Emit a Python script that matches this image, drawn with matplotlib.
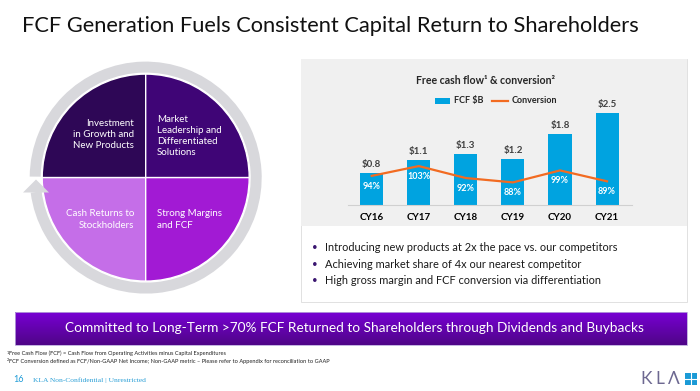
import numpy as np
import matplotlib.pyplot as plt
from matplotlib.patches import Rectangle, Wedge, Polygon

plt.rcParams['font.family'] = ['Lato', 'DejaVu Sans']

# chart data
years = ['CY16', 'CY17', 'CY18', 'CY19', 'CY20', 'CY21']
fcf = [0.84, 1.17, 1.33, 1.19, 1.85, 2.39]
fcf_labels = ['$0.8', '$1.1', '$1.3', '$1.2', '$1.8', '$2.5']
conversion = [94, 103, 92, 88, 99, 89]

# slide text
title = 'FCF Generation Fuels Consistent Capital Return to Shareholders'
quad_tl = 'Investment\nin Growth and\nNew Products'
quad_tr = 'Market\nLeadership and\nDifferentiated\nSolutions'
quad_bl = 'Cash Returns to\nStockholders'
quad_br = 'Strong Margins\nand FCF'
bullets = ['Introducing new products at 2x the pace vs. our competitors',
           'Achieving market share of 4x our nearest competitor',
           'High gross margin and FCF conversion via differentiation']
banner = 'Committed to Long-Term >70% FCF Returned to Shareholders through Dividends and Buybacks'
note1 = 'Free Cash Flow (FCF) = Cash Flow from Operating Activities minus Capital Expenditures'
note2 = 'FCF Conversion defined as FCF/Non-GAAP Net Income; Non-GAAP metric \u2013 Please refer to Appendix for reconciliation to GAAP'

blue = '#00a3e0'
orange = '#f26b21'

fig = plt.figure(figsize=(7, 3.91), dpi=100)

# background canvas in pixel coordinates (y grows downward)
bg = fig.add_axes([0, 0, 1, 1])
bg.axis('off')

bg.text(21.5, 25.5, title, fontsize=15.75, va='center', color='#111111')

#%% cycle diagram
cx, cy = 145.7, 177.6
# angles are in data space, y axis is flipped: 180-270 = upper left on screen
quads = [(180, 270, '#2e0756'), (270, 360, '#3f0576'),
         (90, 180, '#c56ee8'), (0, 90, '#a21ad4')]
for t1, t2, col in quads:
    bg.add_patch(Wedge((cx, cy), 103.5, t1, t2, fc=col, ec='white', lw=1.0))

ring = Wedge((cx, cy), 116, -179.5, 172.5, width=11, fc='#d8d8dc', ec='none')
bg.add_patch(ring)
bg.add_patch(Polygon([(23, 192.5), (36, 179.5), (49, 192.5)], closed=True,
                     fc='#d8d8dc', ec='none'))

qkw = dict(color='white', fontsize=7, va='center', linespacing=1.3)
bg.text(134, 134.4, quad_tl, ha='right', multialignment='right', **qkw)
bg.text(156.7, 136.3, quad_tr, ha='left', **qkw)
bg.text(134, 219.5, quad_bl, ha='right', multialignment='right', **qkw)
bg.text(156.7, 219.5, quad_br, ha='left', **qkw)

#%% chart panel
bg.add_patch(Rectangle((300.7, 59), 386.3, 243, fc='white', ec='#dcdcdc', lw=0.6))
bg.add_patch(Rectangle((300.7, 59), 386.3, 167, fc='#f0f0f0', ec='none'))
bg.text(485, 80.7, 'Free cash flow\u00b9 & conversion\u00b2', ha='center', va='center',
        fontsize=7.6, fontweight='bold', color='#262626')
bg.add_patch(Rectangle((435, 97.5), 15, 6.5, fc=blue, ec='none'))
bg.text(454, 100.7, 'FCF $B', fontsize=6.5, fontweight='bold', va='center', color='#262626')
bg.plot([492, 508], [100.7, 100.7], color=orange, lw=1.6)
bg.text(512, 100.7, 'Conversion', fontsize=6.5, fontweight='bold', va='center', color='#262626')

for i, b in enumerate(bullets):
    yy = 247.7 + i * 16.5
    bg.text(315, yy, '\u2022', fontsize=7, va='center', ha='center', color='#3a1670')
    bg.text(325, yy, b, fontsize=7.95, va='center', color='#1a1a1a')

#%% banner with gradient
grad = np.linspace(0, 1, 60)[:, None, None]
top = np.array([0.47, 0.0, 0.83])
bot = np.array([0.31, 0.02, 0.53])
img = top * (1 - grad) + bot * grad
bg.imshow(img, extent=(15, 687, 345, 312.3), origin='upper', aspect='auto', zorder=1)
bg.add_patch(Rectangle((15, 312.3), 672, 32.7, fc='none', ec='#b9a6dc', lw=0.6, zorder=2))
bg.text(354, 328.5, banner, color='white', fontsize=9.85, ha='center', va='center', zorder=3)

#%% footnotes / footer
bg.text(6.5, 352.5, '1', fontsize=2.8, va='center', color='#222222')
bg.text(9.3, 353.5, note1, fontsize=4.05, va='center', color='#222222')
bg.text(6.5, 360.3, '2', fontsize=2.8, va='center', color='#222222')
bg.text(9.3, 361.3, note2, fontsize=4.05, va='center', color='#222222')
bg.text(13.3, 380, '16', fontsize=6.5, va='center', color='#1e9bd7')
bg.text(33, 380, 'KLA Non-Confidential | Unrestricted', fontsize=5.4, va='center',
        family='Liberation Serif', color='#2a9fd6')
for lx, letter in zip([640, 655, 668], ['K', 'L', '\u039b']):
    bg.text(lx, 379, letter, fontsize=12.5, va='center', color='#6d6891')
bg.add_patch(Rectangle((685, 373), 12, 12, fc='#1a9ad6', ec='none'))
bg.plot([691, 691], [373, 385], color='white', lw=0.8)
bg.plot([685, 697], [379, 379], color='white', lw=0.8)

bg.set_xlim(0, 700)
bg.set_ylim(391, 0)

#%% bar + line chart
ax = fig.add_axes([348 / 700, 1 - 205 / 391, 284 / 700, 105 / 391])
ax.patch.set_alpha(0)
x = np.arange(len(years))
ax.bar(x, fcf, width=0.49, color=blue, zorder=2)
for xi, v, lab in zip(x, fcf, fcf_labels):
    ax.annotate(lab, (xi, v), xytext=(0, 3), textcoords='offset points', ha='center',
                va='bottom', fontsize=7, fontweight='bold', color='#404040')
ax.set_xlim(-0.504, 5.53)
ax.set_ylim(0, 2.734)
ax.set_xticks(x, years, fontsize=7, fontweight='bold')
ax.set_yticks([])
ax.tick_params(length=0, pad=6)
for s in ['top', 'left', 'right']:
    ax.spines[s].set_visible(False)
ax.spines['bottom'].set_color('#d0d0d0')
ax.spines['bottom'].set_linewidth(0.8)

ax2 = ax.twinx()
ax2.plot(x, conversion, color=orange, lw=1.6, zorder=3)
for xi, v in zip(x, conversion):
    ax2.annotate(f'{v}%', (xi, v), xytext=(0, -7.5), textcoords='offset points', ha='center',
                 va='center', fontsize=6.5, fontweight='bold', color='white')
ax2.set_ylim(67.2, 163.8)
ax2.axis('off')

plt.savefig('out.png', dpi=100)
